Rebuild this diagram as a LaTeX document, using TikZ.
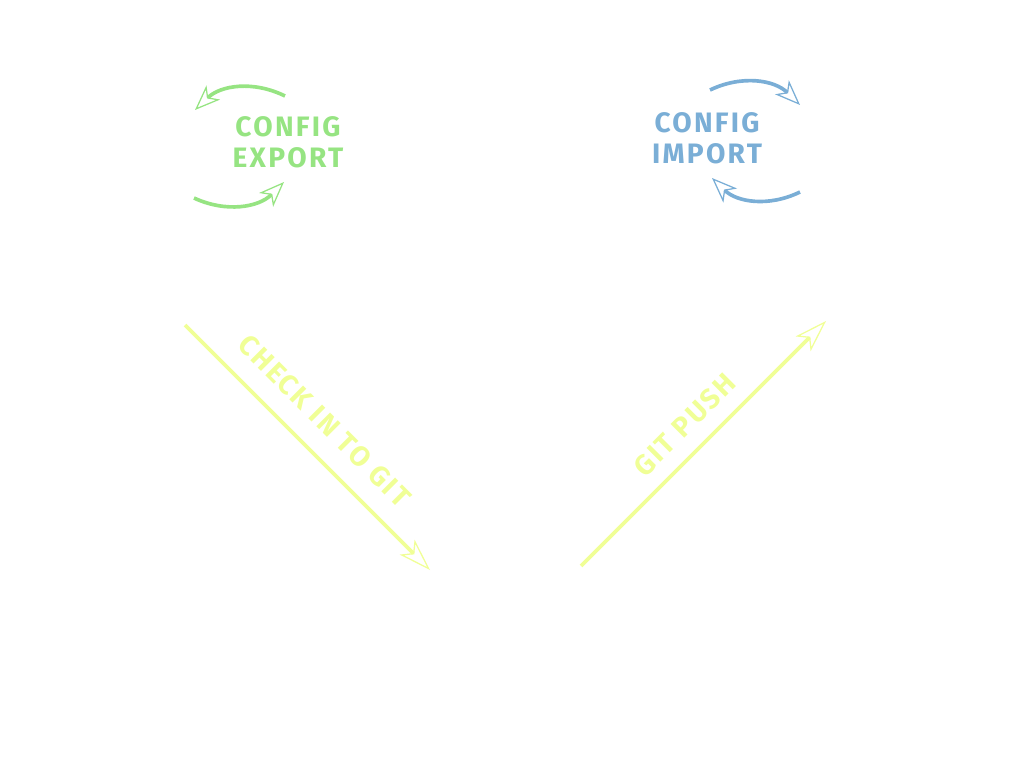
\documentclass[tikz,border=0pt]{standalone}
\usepackage{fontspec}
\setmainfont{Fira Sans}[LetterSpace=8]
\usetikzlibrary{arrows.meta, positioning}
\definecolor{exportgreen}{RGB}{150,228,130}
\definecolor{importblue}{RGB}{122,174,214}
\definecolor{gityellow}{RGB}{240,255,150}
\tikzset{
    x=0.025cm, y=-0.025cm, % one unit is one pixel of the drawing
    >={Stealth[open, length=18pt, width=14pt, inset=5pt, line width=0.9pt]}, % hollow arrow heads
    cyclearrow/.style={->, line width=2.6pt}, % the curved arrows round the config labels
    gitarrow/.style={line width=2.7pt, gityellow, -{Stealth[open, length=23pt, width=15pt, inset=6pt, line width=0.9pt]}}, % the long git arrows
    labeltext/.style={font=\fontsize{20}{22}\selectfont\bfseries, align=center}, % the config labels
    gittext/.style={font=\fontsize{20}{22}\selectfont\bfseries, text=gityellow}, % the text on the git arrows
}
\begin{document}
\begin{tikzpicture}
    \useasboundingbox (0,0) rectangle (1024,763);
    % config export
    \node[labeltext, text=exportgreen] (export) at (288,142) {CONFIG\\EXPORT};
    \coordinate (ex1) at (285,96);
    \coordinate (ex2) at (195,110);
    \coordinate (ex3) at (194,198);
    \coordinate (ex4) at (284,182);
    \draw[cyclearrow, exportgreen] (ex1) to[bend right=35] (ex2);
    \draw[cyclearrow, exportgreen] (ex3) to[bend right=35] (ex4);
    % config import
    \node[labeltext, text=importblue] (import) at (707,138) {CONFIG\\IMPORT};
    \coordinate (im1) at (710,90);
    \coordinate (im2) at (800,105);
    \coordinate (im3) at (800,192);
    \coordinate (im4) at (712,178);
    \draw[cyclearrow, importblue] (im1) to[bend left=35] (im2);
    \draw[cyclearrow, importblue] (im3) to[bend left=35] (im4);
    % git
    \coordinate (checkstart) at (185,325);
    \coordinate (checkend) at (430,570);
    \coordinate (pushstart) at (581,566);
    \coordinate (pushend) at (826,321);
    \draw[gitarrow] (checkstart) -- node[gittext, sloped, pos=0.48, above=10pt] (checkin) {CHECK IN TO GIT} (checkend);
    \draw[gitarrow] (pushstart) -- node[gittext, sloped, pos=0.5, above=7pt] (push) {GIT PUSH} (pushend);
\end{tikzpicture}
\end{document}
